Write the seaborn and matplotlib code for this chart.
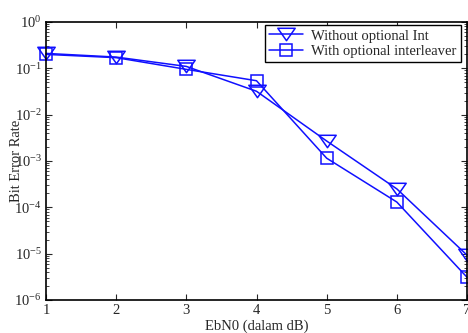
import matplotlib
matplotlib.use("Agg")
import matplotlib.pyplot as plt
import seaborn as sns
import pandas as pd
from matplotlib.path import Path
from matplotlib.ticker import LogLocator, FixedLocator

ebn0 = [1, 2, 3, 4, 5, 6, 7]
ber_without = [0.21, 0.175, 0.11, 0.032, 0.0027, 2.5e-4, 9.3e-6]
ber_with = [0.20, 0.17, 0.095, 0.054, 0.00115, 1.3e-4, 3.1e-6]
series_names = ["Without optional Int", "With optional interleaver"]

df_without = pd.DataFrame({"EbN0": ebn0, "BER": ber_without})
df_with = pd.DataFrame({"EbN0": ebn0, "BER": ber_with})

sns.set_style("ticks")
plt.rcParams["font.family"] = ["Liberation Serif", "DejaVu Serif"]
plt.rcParams["mathtext.fontset"] = "stix"

fig = plt.figure(figsize=(4.68, 3.33), dpi=100)
ax = fig.add_axes([46 / 468, 1 - 300 / 333, (467 - 46) / 468, (300 - 22) / 333])

color = "#1010ff"
tri = Path([(-1.4, 1.0), (1.4, 1.0), (0.0, -1.0), (-1.4, 1.0)],
           [Path.MOVETO, Path.LINETO, Path.LINETO, Path.CLOSEPOLY])

sns.lineplot(data=df_without, x="EbN0", y="BER", label=series_names[0], color=color,
             marker=tri, markersize=12.5, markerfacecolor="none", markeredgecolor=color,
             markeredgewidth=1.1, linewidth=1.1, ax=ax, clip_on=False)
sns.lineplot(data=df_with, x="EbN0", y="BER", label=series_names[1], color=color,
             marker="s", markersize=8, markerfacecolor="none", markeredgecolor=color,
             markeredgewidth=1.1, linewidth=1.1, ax=ax, clip_on=False)

ax.set_yscale("log")
ax.set_xlim(1, 7)
ax.set_ylim(1e-6, 1)
ax.xaxis.set_major_locator(FixedLocator(ebn0))
ax.yaxis.set_major_locator(LogLocator(base=10, numticks=10))
ax.yaxis.set_minor_locator(LogLocator(base=10, subs=range(2, 10), numticks=20))
ax.tick_params(which="both", direction="in", top=True, right=True, labelsize=10.5, pad=3)
ax.tick_params(which="major", length=4, width=0.8)
ax.tick_params(which="minor", length=2, width=0.6)
for s in ax.spines.values():
    s.set_linewidth(1.2)
    s.set_color("black")

ax.set_xlabel("EbN0 (dalam dB)", fontsize=10.5, labelpad=2)
ax.set_ylabel("Bit Error Rate", fontsize=10.5)
ax.yaxis.set_label_coords((23 - 46) / 421, 0.5)

leg = ax.legend(loc="upper right", bbox_to_anchor=(461 / 468, 1 - 25 / 333),
                bbox_transform=fig.transFigure, borderaxespad=0,
                fontsize=10.5, frameon=True, fancybox=False,
                edgecolor="black", framealpha=1,
                handlelength=2.3, borderpad=0.3, labelspacing=0.15, handletextpad=0.6)
leg.get_frame().set_linewidth(1.0)

fig.savefig("out.png", dpi=100)
